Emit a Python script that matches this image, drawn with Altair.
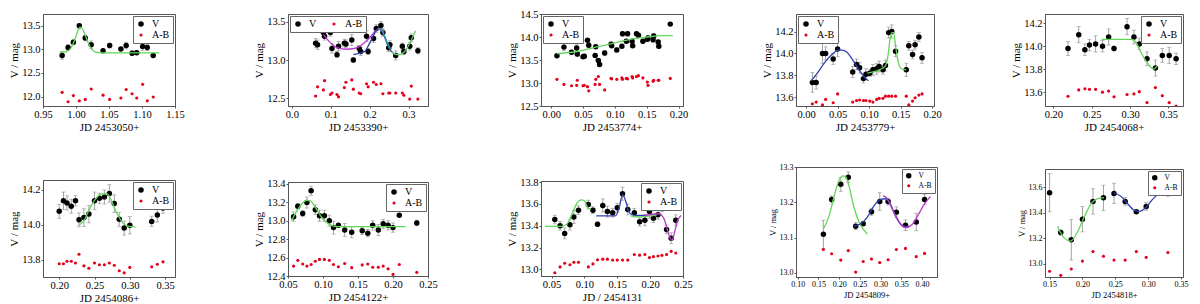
import altair as alt
import pandas as pd

FONT = "Liberation Serif"
RED = "#e3001b"
GREEN = "#62d65a"
BLUE = "#3040b0"
PURPLE = "#b83cc8"
TEAL = "#2aa6a0"

# ---------------- Panel 1 : JD 2453050+
p1_x = [0.979, 0.988, 0.996, 1.005, 1.014, 1.023, 1.041, 1.051, 1.068, 1.076, 1.085, 1.092, 1.101, 1.108, 1.117]
p1_v = [12.87, 13.04, 13.15, 13.50, 13.24, 13.10, 12.97, 13.08, 13.01, 13.08, 12.92, 12.93, 13.06, 13.04, 12.87]
p1_e = [0.08, 0.06, 0.05, 0.05, 0.06, 0.08, 0.03, 0.05, 0.03, 0.07, 0.05, 0.04, 0.08, 0.06, 0.0]
p1_ab = [12.09, 11.89, 12.02, 11.91, 11.94, 12.16, 12.03, 11.94, 11.97, 12.15, 12.06, 11.97, 12.26, 11.91, 11.99]
p1_g_x = [0.975, 0.985, 0.992, 0.998, 1.003, 1.006, 1.009, 1.014, 1.019, 1.024, 1.030, 1.040, 1.126]
p1_g_y = [12.93, 12.95, 13.02, 13.20, 13.40, 13.47, 13.45, 13.30, 13.12, 13.00, 12.94, 12.925, 12.925]

# ---------------- Panel 2 : JD 2453390+
p2_x = [0.061, 0.066, 0.081, 0.084, 0.099, 0.103, 0.116, 0.120, 0.135, 0.139, 0.154, 0.158, 0.173, 0.177,
        0.192, 0.196, 0.210, 0.217, 0.229, 0.234, 0.249, 0.252, 0.267, 0.284, 0.288, 0.303, 0.307, 0.324]
p2_v = [13.22, 13.20, 13.36, 13.31, 13.36, 13.15, 13.07, 13.18, 13.22, 13.21, 13.26, 13.00, 13.15, 13.11,
        13.31, 13.11, 13.28, 13.41, 13.45, 13.36, 13.16, 13.20, 13.06, 13.18, 13.11, 13.18, 13.29, 13.12]
p2_e = [0.06, 0.06, 0.06, 0.05, 0.05, 0.06, 0.04, 0.06, 0.05, 0.05, 0.07, 0.03, 0.04, 0.05,
        0.07, 0.04, 0.05, 0.05, 0.05, 0.05, 0.05, 0.05, 0.06, 0.04, 0.04, 0.05, 0.05, 0.04]
p2_ab = [12.53, 12.65, 12.61, 12.73, 12.55, 12.57, 12.55, 12.52, 12.64, 12.71, 12.74, 12.62, 12.57, 12.56,
         12.69, 12.65, 12.71, 12.68, 12.69, 12.56, 12.57, 12.57, 12.57, 12.57, 12.54, 12.49, 12.66, 12.49]
p2_p_x = [0.081, 0.100, 0.116, 0.141, 0.160, 0.175, 0.190, 0.205, 0.215, 0.225, 0.232, 0.238]
p2_p_y = [13.33, 13.22, 13.16, 13.14, 13.15, 13.18, 13.24, 13.32, 13.38, 13.40, 13.39, 13.36]
p2_b_x = [0.158, 0.175, 0.187, 0.198, 0.208, 0.216, 0.222, 0.228, 0.236, 0.245, 0.255, 0.266, 0.272]
p2_b_y = [13.07, 13.09, 13.11, 13.20, 13.30, 13.38, 13.41, 13.40, 13.33, 13.21, 13.12, 13.08, 13.08]
p2_t_x = [0.222, 0.230, 0.238, 0.246, 0.254]
p2_t_y = [13.41, 13.39, 13.32, 13.22, 13.14]
p2_g_x = [0.258, 0.268, 0.278, 0.288, 0.298, 0.308, 0.318]
p2_g_y = [13.10, 13.07, 13.07, 13.10, 13.17, 13.27, 13.38]

# ---------------- Panel 3 : JD 2453774+
p3_x = [0.009, 0.020, 0.032, 0.040, 0.041, 0.050, 0.052, 0.057, 0.059, 0.069, 0.070, 0.074, 0.076, 0.084,
        0.094, 0.095, 0.103, 0.111, 0.112, 0.118, 0.120, 0.127, 0.128, 0.134, 0.137, 0.144, 0.151, 0.152,
        0.160, 0.161, 0.168, 0.169, 0.187]
p3_v = [13.59, 13.78, 13.67, 13.76, 13.63, 13.57, 13.58, 13.93, 13.82, 13.60, 13.79, 13.49, 13.40, 13.65,
        13.84, 13.81, 13.72, 13.80, 14.07, 13.91, 14.07, 13.91, 13.81, 14.07, 14.04, 13.91, 13.95, 13.98,
        13.94, 14.02, 13.89, 13.80, 14.28]
p3_e = [0.02, 0.07, 0.04, 0.07, 0.05, 0.04, 0.05, 0.04, 0.05, 0.03, 0.04, 0.04, 0.04, 0.05,
        0.05, 0.04, 0.05, 0.04, 0.05, 0.04, 0.05, 0.04, 0.04, 0.04, 0.04, 0.04, 0.04, 0.05,
        0.05, 0.05, 0.04, 0.05, 0.0]
p3_ab = [13.08, 12.97, 12.94, 12.95, 13.06, 12.94, 12.95, 12.92, 12.83, 12.97, 13.08, 13.14, 12.97, 12.85,
         13.10, 13.09, 13.08, 13.11, 13.08, 13.10, 13.09, 13.14, 13.11, 13.14, 13.16, 13.11, 13.02, 12.95,
         13.04, 13.06, 13.06, 13.06, 13.10]
p3_g_x = [0.009, 0.043, 0.070, 0.097, 0.124, 0.151, 0.172, 0.191]
p3_g_y = [13.64, 13.69, 13.78, 13.86, 13.95, 14.00, 14.03, 14.03]

# ---------------- Panel 4 : JD 2453779+
p4_x = [0.010, 0.016, 0.026, 0.031, 0.043, 0.050, 0.074, 0.080, 0.085, 0.091, 0.095, 0.101, 0.106,
        0.112, 0.116, 0.122, 0.126, 0.131, 0.136, 0.142, 0.159, 0.163, 0.169, 0.173, 0.179, 0.184]
p4_v = [13.735, 13.735, 14.00, 14.00, 13.95, 14.04, 13.83, 13.90, 13.87, 13.77, 13.81, 13.82, 13.85,
        13.86, 13.88, 13.85, 13.89, 14.19, 14.20, 14.02, 13.85, 14.07, 13.99, 14.08, 14.15, 13.96]
p4_e = [0.09, 0.06, 0.09, 0.06, 0.05, 0.07, 0.05, 0.05, 0.05, 0.04, 0.05, 0.03, 0.05,
        0.05, 0.05, 0.04, 0.05, 0.05, 0.06, 0.05, 0.06, 0.04, 0.04, 0.04, 0.04, 0.05]
p4_ab = [13.54, 13.556, 13.53, 13.58, 13.55, 13.63, 13.556, 13.57, 13.575, 13.57, 13.57, 13.565, 13.556,
         13.58, 13.59, 13.59, 13.61, 13.61, 13.61, 13.61, 13.61, 13.53, 13.565, 13.595, 13.62, 13.63]
p4_b_x = [0.008, 0.019, 0.030, 0.041, 0.051, 0.057, 0.065, 0.073, 0.084, 0.095, 0.099]
p4_b_y = [13.75, 13.83, 13.92, 13.99, 14.03, 14.03, 14.01, 13.95, 13.85, 13.77, 13.75]
p4_g_x = [0.097, 0.116, 0.125, 0.130, 0.133, 0.136, 0.139, 0.142, 0.146, 0.151, 0.159]
p4_g_y = [13.82, 13.85, 13.88, 13.98, 14.12, 14.19, 14.19, 14.07, 13.93, 13.86, 13.85]

# ---------------- Panel 5 : JD 2454068+
p5_x = [0.219, 0.233, 0.241, 0.247, 0.255, 0.264, 0.272, 0.279, 0.296, 0.305, 0.312, 0.322, 0.333, 0.342, 0.351, 0.360]
p5_v = [13.98, 14.10, 13.97, 14.01, 14.02, 14.00, 14.08, 13.98, 14.17, 14.08, 14.02, 13.89, 13.81, 13.92, 13.92, 13.89]
p5_e = [0.06, 0.07, 0.05, 0.05, 0.07, 0.05, 0.07, 0.02, 0.07, 0.06, 0.05, 0.06, 0.07, 0.06, 0.07, 0.05]
p5_ab = [13.565, 13.62, 13.63, 13.625, 13.625, 13.60, 13.61, 13.56, 13.58, 13.585, 13.605, 13.51, 13.64, 13.57, 13.51, 13.48]
p5_g_x = [0.263, 0.283, 0.302, 0.308, 0.314, 0.319, 0.323, 0.328, 0.331, 0.335]
p5_g_y = [14.06, 14.06, 14.06, 14.03, 13.95, 13.89, 13.85, 13.81, 13.80, 13.83]

# ---------------- Panel 6 : JD 2454086+
p6_x = [0.200, 0.206, 0.211, 0.217, 0.223, 0.228, 0.235, 0.242, 0.250, 0.257, 0.264, 0.271, 0.278, 0.285,
        0.292, 0.300, 0.331, 0.339, 0.347]
p6_v = [14.076, 14.136, 14.124, 14.105, 14.136, 14.027, 14.04, 14.06, 14.136, 14.15, 14.158, 14.178, 14.12,
        14.03, 13.98, 13.996, 14.018, 14.055, 14.095]
p6_e = [0.04, 0.05, 0.04, 0.04, 0.03, 0.04, 0.05, 0.05, 0.05, 0.03, 0.04, 0.05, 0.05, 0.04, 0.04, 0.05, 0.03, 0.04, 0.03]
p6_ab = [13.776, 13.776, 13.79, 13.79, 13.78, 13.83, 13.764, 13.75, 13.78, 13.77, 13.77, 13.78, 13.767,
         13.736, 13.724, 13.755, 13.758, 13.773, 13.787]
p6_g_x = [0.228, 0.236, 0.243, 0.252, 0.261, 0.268, 0.273, 0.281, 0.290, 0.299, 0.308]
p6_g_y = [13.996, 14.03, 14.09, 14.15, 14.176, 14.176, 14.145, 14.07, 14.01, 13.99, 13.987]

# ---------------- Panel 7 : JD 2454122+
p7_x = [0.058, 0.064, 0.071, 0.077, 0.083, 0.089, 0.095, 0.102, 0.109, 0.115, 0.122, 0.131, 0.141, 0.156,
        0.164, 0.171, 0.179, 0.186, 0.193, 0.200, 0.209, 0.234]
p7_v = [13.044, 13.156, 13.078, 13.197, 13.325, 13.12, 13.054, 13.054, 13.0, 12.925, 12.95, 12.9, 12.875,
        12.89, 12.865, 12.95, 12.9, 12.966, 12.95, 12.925, 13.06, 12.976]
p7_e = [0.05, 0.03, 0.03, 0.06, 0.05, 0.05, 0.06, 0.06, 0.06, 0.07, 0.02, 0.07, 0.06, 0.04, 0.04, 0.05,
        0.06, 0.05, 0.05, 0.05, 0.0, 0.03]
p7_ab = [12.508, 12.57, 12.53, 12.508, 12.525, 12.56, 12.58, 12.58, 12.57, 12.525, 12.5, 12.536, 12.49,
         12.52, 12.53, 12.495, 12.495, 12.508, 12.478, 12.417, 12.525, 12.44]
p7_g_x = [0.055, 0.062, 0.070, 0.077, 0.082, 0.089, 0.099, 0.109, 0.121, 0.218]
p7_g_y = [13.0, 13.095, 13.186, 13.22, 13.214, 13.146, 13.027, 12.96, 12.935, 12.935]

# ---------------- Panel 8 : JD / 2454131
p8_x = [0.055, 0.063, 0.070, 0.078, 0.084, 0.091, 0.106, 0.113, 0.120, 0.128, 0.135, 0.143, 0.150, 0.158,
        0.166, 0.176, 0.184, 0.192, 0.199, 0.205, 0.212, 0.218, 0.225, 0.232, 0.239]
p8_v = [13.457, 13.40, 13.33, 13.41, 13.48, 13.543, 13.594, 13.543, 13.414, 13.586, 13.53, 13.52, 13.566,
        13.694, 13.55, 13.52, 13.437, 13.45, 13.53, 13.47, 13.50, 13.57, 13.366, 13.286, 13.45]
p8_e = [0.04, 0.04, 0.05, 0.05, 0.06, 0.04, 0.04, 0.03, 0.02, 0.06, 0.05, 0.04, 0.04, 0.06, 0.05, 0.04,
        0.04, 0.05, 0.06, 0.04, 0.04, 0.04, 0.04, 0.05, 0.05]
p8_ab = [12.97, 13.023, 13.057, 13.043, 13.066, 13.066, 13.023, 13.051, 13.089, 13.094, 13.094, 13.086,
         13.086, 13.086, 13.086, 13.137, 13.131, 13.137, 13.109, 13.117, 13.123, 13.129, 13.137, 13.166, 13.151]
p8_g_x = [0.040, 0.066, 0.074, 0.082, 0.089, 0.095, 0.100, 0.105, 0.110]
p8_g_y = [13.394, 13.394, 13.42, 13.52, 13.61, 13.637, 13.63, 13.566, 13.55]
p8_b_x = [0.118, 0.147, 0.153, 0.158, 0.163, 0.168, 0.176, 0.189, 0.195]
p8_b_y = [13.49, 13.49, 13.566, 13.686, 13.623, 13.523, 13.494, 13.494, 13.50]
p8_g2_x = [0.170, 0.185, 0.200, 0.210]
p8_g2_y = [13.49, 13.48, 13.49, 13.50]
p8_p_x = [0.192, 0.213, 0.221, 0.229, 0.233, 0.237, 0.242, 0.247]
p8_p_y = [13.494, 13.51, 13.466, 13.31, 13.266, 13.337, 13.45, 13.494]

# ---------------- Panel 9 : JD 2454809+
p9_x = [0.162, 0.182, 0.204, 0.222, 0.240, 0.258, 0.278, 0.298, 0.318, 0.338, 0.360, 0.386, 0.406]
p9_v = [13.109, 13.208, 13.251, 13.271, 13.132, 13.139, 13.173, 13.202, 13.202, 13.172, 13.135, 13.144, 13.208]
p9_e = [0.04, 0.01, 0.02, 0.015, 0.01, 0.005, 0.01, 0.025, 0.01, 0.015, 0.015, 0.025, 0.015]
p9_ab = [13.066, 13.054, 13.036, 13.063, 13.002, 13.032, 13.039, 13.029, 13.037, 13.066, 13.069, 13.046, 13.055]
p9_g_x = [0.162, 0.176, 0.188, 0.200, 0.208, 0.216, 0.224, 0.236, 0.248, 0.260, 0.268]
p9_g_y = [13.124, 13.162, 13.217, 13.263, 13.275, 13.272, 13.245, 13.185, 13.144, 13.121, 13.11]
p9_b_x = [0.236, 0.252, 0.268, 0.284, 0.300, 0.312, 0.324, 0.336, 0.348, 0.360, 0.368]
p9_b_y = [13.132, 13.139, 13.158, 13.19, 13.208, 13.21, 13.194, 13.162, 13.139, 13.13, 13.132]
p9_p_x = [0.306, 0.316, 0.328, 0.344, 0.360, 0.376, 0.392, 0.404, 0.420]
p9_p_y = [13.219, 13.21, 13.181, 13.144, 13.128, 13.137, 13.167, 13.192, 13.216]

# ---------------- Panel 10 : JD 2454818+
p10_x = [0.150, 0.167, 0.183, 0.200, 0.216, 0.232, 0.248, 0.265, 0.282, 0.297, 0.330]
p10_v = [13.558, 13.245, 13.188, 13.35, 13.49, 13.518, 13.553, 13.49, 13.408, 13.45, 13.553]
p10_e = [0.15, 0.02, 0.16, 0.10, 0.10, 0.10, 0.08, 0.03, 0.01, 0.03, 0.02]
p10_ab = [12.94, 12.908, 12.958, 13.02, 13.095, 13.058, 13.028, 13.028, 13.095, 13.05, 13.088]
p10_g_x = [0.162, 0.172, 0.182, 0.192, 0.203, 0.213, 0.223, 0.233]
p10_g_y = [13.295, 13.203, 13.178, 13.245, 13.37, 13.47, 13.512, 13.52]
p10_b_x = [0.248, 0.259, 0.269, 0.279, 0.287, 0.297, 0.307, 0.317, 0.328, 0.338]
p10_b_y = [13.558, 13.528, 13.47, 13.42, 13.412, 13.445, 13.508, 13.55, 13.563, 13.563]

SERIES = ["V", "A-B"]


def panel(x, v, e, ab, curves, xdom, ydom, xt, yt, xfmt, xtitle, w, h,
          orient="top-right", horiz=False, small=False):
    lfs = 8 if small else 10.5
    tfs = 8.5 if small else 11
    pts = pd.DataFrame({"x": list(x) + list(x), "y": list(v) + list(ab),
                        "s": ["V"] * len(x) + ["A-B"] * len(x)})
    err = pd.DataFrame({"x": x, "lo": [a - b for a, b in zip(v, e)],
                        "hi": [a + b for a, b in zip(v, e)], "e": e})
    err = err[err["e"] > 0]
    xs = alt.Scale(domain=xdom, nice=False, zero=False)
    ys = alt.Scale(domain=ydom, nice=False, zero=False)
    xa = alt.Axis(values=xt, format=xfmt, title=xtitle, labelFontSize=lfs, titleFontSize=tfs,
                  labelFlush=False, labelOverlap=False)
    ya = alt.Axis(values=yt, format=".1f", title="V / mag", labelFontSize=lfs, titleFontSize=tfs,
                  labelFlush=False, labelOverlap=False)

    def X(f):
        return alt.X(f, type="quantitative", scale=xs, axis=xa)

    def Y(f):
        return alt.Y(f, type="quantitative", scale=ys, axis=ya)

    leg = alt.Legend(title=None, orient=orient, direction="horizontal" if horiz else "vertical",
                     offset=2, strokeColor="#666", fillColor="white", padding=3,
                     labelFont=FONT, labelFontSize=lfs - 0.5, rowPadding=1, columnPadding=12,
                     labelOffset=6, symbolStrokeWidth=0)
    layers = [
        alt.Chart(err).mark_rule(color="#8a8a8a", strokeWidth=0.8, clip=True).encode(
            x=X("x"), y=Y("lo"), y2="hi"),
        alt.Chart(err).mark_tick(color="#8a8a8a", orient="horizontal", size=4, thickness=0.8,
                                 clip=True).encode(x=X("x"), y=Y("lo")),
        alt.Chart(err).mark_tick(color="#8a8a8a", orient="horizontal", size=4, thickness=0.8,
                                 clip=True).encode(x=X("x"), y=Y("hi")),
        alt.Chart(pts).mark_circle(opacity=1, clip=True).encode(
            x=X("x"), y=Y("y"),
            color=alt.Color("s:N", scale=alt.Scale(domain=SERIES, range=["black", RED]), legend=leg),
            size=alt.Size("s:N", scale=alt.Scale(domain=SERIES, range=[30, 10]), legend=leg)),
    ]
    for cx, cy, col in curves:
        layers.append(
            alt.Chart(pd.DataFrame({"x": cx, "y": cy})).mark_line(
                color=col, strokeWidth=1.3, interpolate="monotone", clip=True).encode(
                x=X("x"), y=Y("y")))
    return alt.layer(*layers).properties(width=w, height=h)


P1 = panel(p1_x, p1_v, p1_e, p1_ab, [(p1_g_x, p1_g_y, GREEN)], [0.95, 1.15], [11.8, 13.75],
           [0.95, 1.0, 1.05, 1.1, 1.15], [12.0, 12.5, 13.0, 13.5], ".2f", "JD 2453050+", 132, 92)
P2 = panel(p2_x, p2_v, p2_e, p2_ab,
           [(p2_p_x, p2_p_y, PURPLE), (p2_b_x, p2_b_y, BLUE), (p2_t_x, p2_t_y, TEAL), (p2_g_x, p2_g_y, GREEN)],
           [-0.01, 0.35], [12.4, 13.6], [0.0, 0.1, 0.2, 0.3], [12.5, 13.0, 13.5], ".1f", "JD 2453390+",
           140, 92, orient="top-left", horiz=True)
P3 = panel(p3_x, p3_v, p3_e, p3_ab, [(p3_g_x, p3_g_y, GREEN)], [-0.016, 0.207], [12.5, 14.5],
           [0.0, 0.05, 0.1, 0.15, 0.2], [12.5, 13.0, 13.5, 14.0, 14.5], ".2f", "JD 2453774+",
           142, 92, orient="top-left")
P4 = panel(p4_x, p4_v, p4_e, p4_ab, [(p4_b_x, p4_b_y, BLUE), (p4_g_x, p4_g_y, GREEN)],
           [-0.016, 0.203], [13.52, 14.36], [0.0, 0.05, 0.1, 0.15, 0.2], [13.6, 13.8, 14.0, 14.2],
           ".2f", "JD 2453779+", 138, 92, orient="top-left")
P5 = panel(p5_x, p5_v, p5_e, p5_ab, [(p5_g_x, p5_g_y, GREEN)], [0.189, 0.369], [13.48, 14.28],
           [0.2, 0.25, 0.3, 0.35], [13.6, 13.8, 14.0, 14.2], ".2f", "JD 2454068+", 138, 92)
P6 = panel(p6_x, p6_v, p6_e, p6_ab, [(p6_g_x, p6_g_y, GREEN)], [0.177, 0.364], [13.70, 14.255],
           [0.2, 0.25, 0.3, 0.35], [13.8, 14.0, 14.2], ".2f", "JD 2454086+", 132, 97)
P7 = panel(p7_x, p7_v, p7_e, p7_ab, [(p7_g_x, p7_g_y, GREEN)], [0.05, 0.25], [12.4, 13.42],
           [0.05, 0.1, 0.15, 0.2, 0.25], [12.4, 12.6, 12.8, 13.0, 13.2, 13.4], ".2f", "JD 2454122+",
           140, 94)
P8 = panel(p8_x, p8_v, p8_e, p8_ab,
           [(p8_g_x, p8_g_y, GREEN), (p8_b_x, p8_b_y, BLUE), (p8_g2_x, p8_g2_y, GREEN), (p8_p_x, p8_p_y, PURPLE)],
           [0.034, 0.25], [12.94, 13.81], [0.05, 0.1, 0.15, 0.2, 0.25], [13.0, 13.2, 13.4, 13.6, 13.8],
           ".2f", "JD / 2454131", 142, 95)
P9 = panel(p9_x, p9_v, p9_e, p9_ab,
           [(p9_g_x, p9_g_y, GREEN), (p9_b_x, p9_b_y, BLUE), (p9_p_x, p9_p_y, PURPLE)],
           [0.096, 0.436], [12.988, 13.30], [0.1, 0.15, 0.2, 0.25, 0.3, 0.35, 0.4],
           [13.0, 13.1, 13.2, 13.3], ".2f", "JD 2454809+", 141, 110, small=True)
P10 = panel(p10_x, p10_v, p10_e, p10_ab, [(p10_g_x, p10_g_y, GREEN), (p10_b_x, p10_b_y, BLUE)],
            [0.143, 0.353], [12.895, 13.745], [0.15, 0.2, 0.25, 0.3, 0.35],
            [13.0, 13.2, 13.4, 13.6], ".2f", "JD 2454818+", 138, 108, small=True)


def col(top, bottom, sp):
    return alt.vconcat(top, bottom, spacing=sp).resolve_scale(
        x="independent", y="independent", color="independent", size="independent").resolve_legend(
        color="independent", size="independent")


chart = alt.hconcat(
    col(P1, P6, 46), col(P2, P7, 45), col(P3, P8, 43), col(P4, P9, 29), col(P5, P10, 35),
    spacing=68
).resolve_scale(
    x="independent", y="independent", color="independent", size="independent"
).resolve_legend(
    color="independent", size="independent"
).properties(
    padding=0
).configure_view(
    stroke="#555", strokeWidth=1
).configure_axis(
    labelFont=FONT, titleFont=FONT, titleFontWeight="normal", labelColor="black", titleColor="black",
    tickColor="#555", domainColor="#555", tickSize=2, labelPadding=1, titlePadding=2, grid=False
).configure_legend(
    labelFont=FONT, labelColor="black"
)

chart.save("out.html", embed_options={"renderer": "svg", "actions": False})
